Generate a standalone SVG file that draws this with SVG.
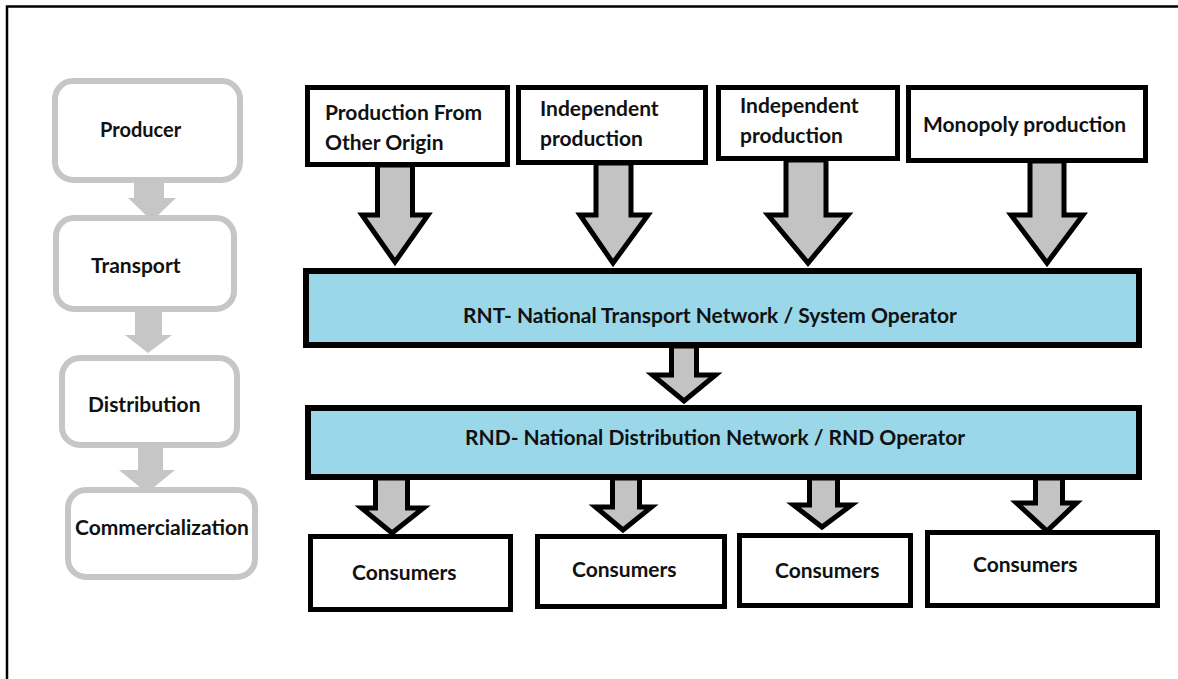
<svg xmlns="http://www.w3.org/2000/svg" width="1178" height="679" viewBox="0 0 1178 679">
<style>
.t{font-family:Lato,"Open Sans","Liberation Sans",sans-serif;font-weight:700;font-size:21px;fill:#111}
.g{fill:#fff;stroke:#c6c6c6;stroke-width:6}
.ga{fill:#c6c6c6}
.b{fill:#fff;stroke:#000;stroke-width:5}
.bar{fill:#9ad7e9;stroke:#000;stroke-width:6}
.ba{fill:#c3c3c3;stroke:#000;stroke-width:5;stroke-linejoin:miter}
</style>
<rect width="1178" height="679" fill="#fff"/>
<path d="M7,679 V6.5 H1178" fill="none" stroke="#000" stroke-width="2.5"/>
<g id="producer"><rect class="g" x="55" y="81" width="185" height="99" rx="18"/><text class="t" x="100" y="137" style="font-size:20px">Producer</text></g>
<g id="transport"><rect class="g" x="56" y="218" width="178" height="91" rx="18"/><text class="t" x="91" y="273">Transport</text></g>
<g id="distribution"><rect class="g" x="62" y="358" width="175" height="87" rx="18"/><text class="t" x="88" y="412">Distribution</text></g>
<g id="commercialization"><rect class="g" x="68" y="490" width="187" height="87" rx="18"/><text class="t" x="75" y="535">Commercialization</text></g>
<g id="prod-other"><rect class="b" x="307.5" y="87.5" width="200" height="77"/><text class="t" x="325" y="120">Production From</text><text class="t" x="325" y="150">Other Origin</text></g>
<g id="indep-1"><rect class="b" x="518.5" y="87.5" width="187" height="75"/><text class="t" x="540" y="116">Independent</text><text class="t" x="540" y="146">production</text></g>
<g id="indep-2"><rect class="b" x="718.5" y="87.5" width="179" height="71"/><text class="t" x="740" y="113">Independent</text><text class="t" x="740" y="143">production</text></g>
<g id="monopoly"><rect class="b" x="908.5" y="87.5" width="237" height="73"/><text class="t" x="923" y="132">Monopoly production</text></g>
<g id="rnt"><rect class="bar" x="306" y="271" width="833" height="74"/><text class="t" x="463" y="323">RNT- National Transport Network / System Operator</text></g>
<g id="rnd"><rect class="bar" x="308" y="408" width="831" height="69"/><text class="t" x="465" y="445">RND- National Distribution Network / RND Operator</text></g>
<g id="consumers-1"><rect class="b" x="310.5" y="536.5" width="200" height="73"/><text class="t" x="352" y="580">Consumers</text></g>
<g id="consumers-2"><rect class="b" x="537.5" y="536.5" width="187" height="70"/><text class="t" x="572" y="577">Consumers</text></g>
<g id="consumers-3"><rect class="b" x="739.5" y="535.5" width="171" height="70"/><text class="t" x="775" y="578">Consumers</text></g>
<g id="consumers-4"><rect class="b" x="927.5" y="532.5" width="230" height="73"/><text class="t" x="973" y="572">Consumers</text></g>
<g id="connectors">
<polygon class="ga" points="134,183 164,183 164,198 176,198 152,221 128,198 134,198"/>
<polygon class="ga" points="135,312 162,312 162,335 172,335 148,353 125,335 135,335"/>
<polygon class="ga" points="138,448 163,448 163,470 175,470 147,493 119,470 138,470"/>
<polygon class="ba" points="377.5,165 412.5,165 412.5,215 428,215 395,262 362,215 377.5,215"/>
<polygon class="ba" points="596,163 631,163 631,215 648,215 613,263 580,215 596,215"/>
<polygon class="ba" points="786,160 826,160 826,215 848,215 808,263 768,215 786,215"/>
<polygon class="ba" points="1030,161 1064,161 1064,215 1083,215 1047,263 1011,215 1030,215"/>
<polygon class="ba" points="671.5,346 696.5,346 696.5,375 715.5,375 684,401 652.5,375 671.5,375"/>
<polygon class="ba" points="375.5,478 407.5,478 407.5,508 423.5,508 392,533 361.5,508 375.5,508"/>
<polygon class="ba" points="612.5,478 639.5,478 639.5,507 651.5,507 623,530 595.5,507 612.5,507"/>
<polygon class="ba" points="809.5,478 837.5,478 837.5,505 851.5,505 822,527 793.5,505 809.5,505"/>
<polygon class="ba" points="1035.5,478 1062.5,478 1062.5,503 1076.5,503 1047,531 1016.5,503 1035.5,503"/>
</g>
</svg>
